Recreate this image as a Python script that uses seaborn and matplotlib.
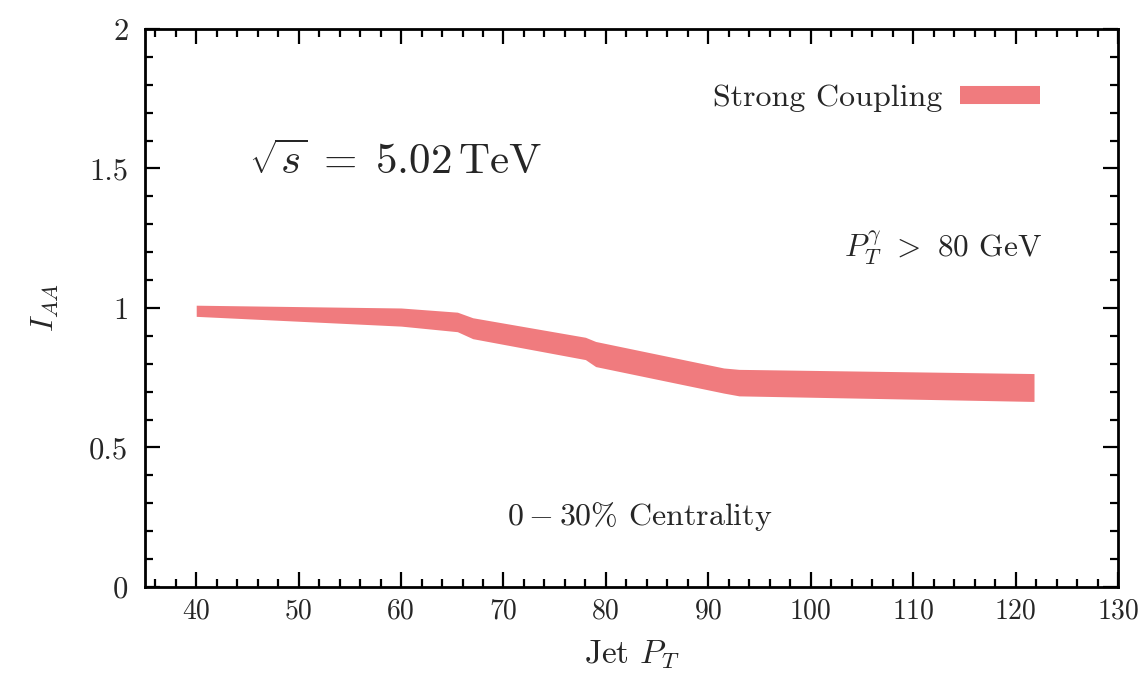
import matplotlib
matplotlib.use("Agg")
import matplotlib.pyplot as plt
from matplotlib.lines import Line2D
from matplotlib.ticker import MultipleLocator
import numpy as np
import pandas as pd
import seaborn as sns

# Strong-coupling band for I_AA versus jet p_T (upper and lower edges)
jet_pt = [40, 60, 65.5, 67, 78, 79, 91.5, 93, 121.8]
iaa_upper = [1.01, 1.0, 0.985, 0.965, 0.895, 0.88, 0.785, 0.78, 0.765]
iaa_lower = [0.97, 0.935, 0.915, 0.89, 0.815, 0.79, 0.695, 0.685, 0.665]

x_ticks = [40, 50, 60, 70, 80, 90, 100, 110, 120, 130]
y_ticks = [0, 0.5, 1, 1.5, 2]
y_tick_labels = ["0", "0.5", "1", "1.5", "2"]

band_color = "#F07B7E"

sns.set_theme(style="ticks")
plt.rcParams["font.family"] = ["cmr10", "DejaVu Serif"]
plt.rcParams["mathtext.fontset"] = "cm"
plt.rcParams["axes.formatter.use_mathtext"] = True

band = pd.DataFrame({
    "pt": jet_pt + jet_pt,
    "iaa": iaa_upper + iaa_lower,
})

fig = plt.figure(figsize=(11.4, 6.74), dpi=100)
ax = fig.add_axes([0.1272, 0.1291, 0.8535, 0.8279])

# min-max interval of the two edges gives the filled band
sns.lineplot(data=band, x="pt", y="iaa", errorbar=("pi", 100), err_style="band",
             linewidth=0, color=band_color, err_kws={"alpha": 1.0, "linewidth": 0},
             ax=ax, legend=False)

ax.set_xlim(35, 130)
ax.set_ylim(0, 2)
ax.set_xticks(x_ticks)
ax.set_xticklabels([str(t) for t in x_ticks])
ax.set_yticks(y_ticks)
ax.set_yticklabels(y_tick_labels)
ax.xaxis.set_minor_locator(MultipleLocator(2))
ax.yaxis.set_minor_locator(MultipleLocator(0.1))

for side in ["left", "right", "top", "bottom"]:
    ax.spines[side].set_visible(True)
    ax.spines[side].set_linewidth(2.0)
    ax.spines[side].set_color("black")

ax.tick_params(which="both", direction="in", top=True, right=True,
               color="black", width=1.6)
ax.tick_params(which="major", length=11)
ax.tick_params(axis="x", which="major", pad=8, labelsize=20)
ax.tick_params(axis="y", which="major", pad=12, labelsize=22)
ax.tick_params(which="minor", length=6)

ax.set_xlabel(r"Jet $P_T$", fontsize=24, labelpad=10)
ax.set_ylabel(r"$I_{AA}$", fontsize=23, labelpad=20)

handle = Line2D([], [], color=band_color, linewidth=13, solid_capstyle="butt")
ax.legend([handle], ["Strong Coupling"], loc="center right",
          bbox_to_anchor=(0.92, 0.876), frameon=False, markerfirst=False,
          fontsize=23, handlelength=2.5, handletextpad=0.55,
          borderpad=0, borderaxespad=0)

ax.text(45.2, 1.523, r"$\sqrt{s} \;=\; 5.02\,\mathrm{TeV}$", fontsize=31,
        ha="left", va="center")
ax.text(122.6, 1.215, r"$P_T^{\gamma}$ $>$ 80 GeV", fontsize=22.5,
        ha="right", va="center")
ax.text(83.3, 0.251, r"$0-30\%$ Centrality", fontsize=23,
        ha="center", va="center")

fig.savefig("out.png", dpi=100, facecolor="white")
